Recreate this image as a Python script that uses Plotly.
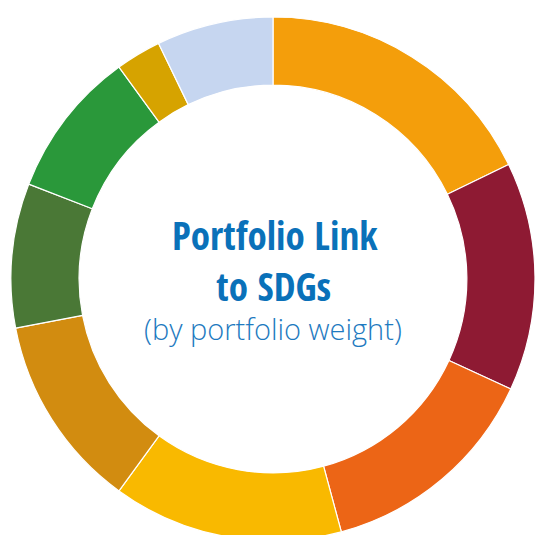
import plotly.graph_objects as go

# SDG slices, clockwise from 12 o'clock (portfolio weight, %)
labels = ["SDG A", "SDG B", "SDG C", "SDG D", "SDG E", "SDG F", "SDG G", "SDG H", "SDG I"]
weights = [17.8, 14.1, 13.9, 14.2, 12.0, 8.9, 9.1, 2.8, 7.2]
colors = ["#F49E0B", "#8E1A33", "#EC6516", "#F9B900", "#D28C10",
          "#4A7836", "#2A983A", "#D6A300", "#C6D6F0"]

title_lines = ["Portfolio Link", "to SDGs"]
subtitle = "(by portfolio weight)"

W, H = 536, 541
ml, mr, mt, mb = 11, 1, 17, 0

fig = go.Figure(go.Pie(
    labels=labels, values=weights, hole=0.74, sort=False,
    direction="clockwise", rotation=0,
    marker=dict(colors=colors, line=dict(color="white", width=1.2)),
    textinfo="none", hoverinfo="label+percent", showlegend=False,
))

def py(ypix):
    return (H - mb - ypix) / (H - mt - mb)

def px(xpix):
    return (xpix - ml) / (W - ml - mr)

ann = [
    dict(text="<b>" + title_lines[0] + "</b>", x=px(275), y=py(235),
         font=dict(family="Open Sans Condensed, Roboto Condensed, sans-serif", size=39, color="#0A71B9")),
    dict(text="<b>" + title_lines[1] + "</b>", x=px(273.5), y=py(285),
         font=dict(family="Open Sans Condensed, Roboto Condensed, sans-serif", size=39, color="#0A71B9")),
    dict(text=subtitle, x=px(272.5), y=py(328),
         font=dict(family="Open Sans, sans-serif", size=29, color="#1E7AC0", weight=300)),
]
for a in ann:
    a.update(xref="paper", yref="paper", xanchor="center", yanchor="middle", showarrow=False)

fig.update_layout(
    width=W, height=H, autosize=False,
    margin=dict(l=ml, r=mr, t=mt, b=mb, pad=0),
    paper_bgcolor="white", plot_bgcolor="white",
    annotations=ann,
)

fig.write_html("out.html", config={"displayModeBar": False}, post_script=(
    "document.body.style.margin='0';document.body.style.overflow='hidden';"
    "document.documentElement.style.overflow='hidden';"))
